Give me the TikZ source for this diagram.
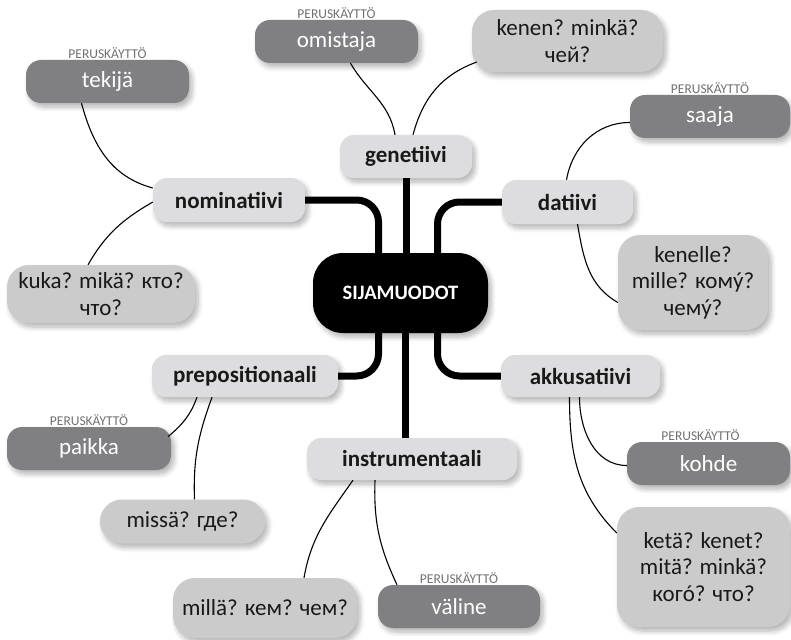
\documentclass[tikz,border=0pt]{standalone}
\usepackage{fontspec}
\setmainfont{Carlito}
\usetikzlibrary{shadows.blur}
\definecolor{catfill}{RGB}{221,221,223}
\definecolor{qfill}{RGB}{203,203,204}
\definecolor{darkfill}{RGB}{128,128,130}
\definecolor{tagcol}{RGB}{112,112,114}
\definecolor{txt}{RGB}{25,25,25}
\begin{document}
\begin{tikzpicture}[x=1pt,y=-1pt,
  base/.style={inner sep=0pt, align=center,
    blur shadow={shadow xshift=3pt, shadow yshift=-4pt, shadow opacity=30, shadow blur steps=7, shadow blur radius=5pt}},
  catbox/.style={base, rounded corners=14pt, fill=catfill, text=txt, font=\fontsize{23}{26}\selectfont\bfseries},
  qbox/.style={base, rounded corners=22pt, fill=qfill, text=txt, font=\fontsize{23}{26.5}\selectfont},
  leafbox/.style={base, rounded corners=15pt, fill=darkfill, text=white, font=\fontsize{23}{26}\selectfont},
  centbox/.style={base, rounded corners=30pt, fill=black, text=white, font=\fontsize{20.5}{24}\selectfont\bfseries},
  tag/.style={anchor=south, inner sep=1pt, text=tagcol, font=\fontsize{13.5}{14}\selectfont},
  trunk/.style={line width=7pt, rounded corners=22pt},
  link/.style={line width=1.1pt},
]
\useasboundingbox (0,0) rectangle (791,639);

% centre
\node[centbox, minimum width=175pt, minimum height=80pt] (cen) at (400.5,293) {SIJAMUODOT};

% categories
\node[catbox, minimum width=132pt, minimum height=43pt] (gen) at (406,156.5) {genetiivi};
\node[catbox, minimum width=152pt, minimum height=44pt] (nom) at (229,200) {nominatiivi};
\node[catbox, minimum width=131pt, minimum height=44pt] (dat) at (567.5,202) {datiivi};
\node[catbox, minimum width=186pt, minimum height=42pt] (pre) at (245,376) {prepositionaali};
\node[catbox, minimum width=159pt, minimum height=42pt] (akk) at (580.5,376) {akkusatiivi};
\node[catbox, minimum width=210pt, minimum height=42pt] (ins) at (412,459) {instrumentaali};

% leaves
\node[leafbox, minimum width=163pt, minimum height=43pt] (omi) at (336.5,41.5) {omistaja};
\node[qbox, minimum width=191pt, minimum height=62pt] (ken) at (567.5,41) {kenen? minkä?\\чей?};
\node[leafbox, minimum width=163pt, minimum height=43pt] (tek) at (107.5,81.5) {tekijä};
\node[leafbox, minimum width=160pt, minimum height=43pt] (saa) at (710,116.5) {saaja};
\node[qbox, minimum width=150pt, minimum height=95pt] (kenl) at (693,282.5) {kenelle?\\mille? комý?\\чемý?};
\node[qbox, minimum width=188pt, minimum height=58pt] (kuka) at (101,294) {kuka? mikä? кто?\\что?};
\node[leafbox, minimum width=164pt, minimum height=43pt] (pai) at (89,448.5) {paikka};
\node[qbox, minimum width=165pt, minimum height=44pt] (mis) at (182.5,521.5) {missä? где?};
\node[qbox, minimum width=184pt, minimum height=60pt] (mil) at (265,608) {millä? кем? чем?};
\node[leafbox, minimum width=162pt, minimum height=43pt] (val) at (459,606.5) {väline};
\node[leafbox, minimum width=163pt, minimum height=43pt] (koh) at (708.5,463.5) {kohde};
\node[qbox, minimum width=173pt, minimum height=120pt] (ket) at (703.5,567) {ketä? kenet?\\mitä? minkä?\\когó? что?};

% tags
\node[tag] (omiT) at (omi.north) {PERUSKÄYTTÖ};
\node[tag] (tekT) at (tek.north) {PERUSKÄYTTÖ};
\node[tag] (saaT) at (saa.north) {PERUSKÄYTTÖ};
\node[tag] (paiT) at (pai.north) {PERUSKÄYTTÖ};
\node[tag] (valT) at (val.north) {PERUSKÄYTTÖ};
\node[tag] (kohT) at ([xshift=-8pt]koh.north) {PERUSKÄYTTÖ};

% trunks
\draw[trunk] (gen.south) -- (gen.south |- cen.north);
\draw[trunk] ([xshift=5pt]cen.south) -- ([xshift=5pt]cen.south |- ins.north);
\draw[trunk] (nom.east) -| ([xshift=-22pt]cen.north);
\draw[trunk] (dat.west) -| ([xshift=37pt]cen.north);
\draw[trunk] (pre.east) -| ([xshift=-22pt]cen.south);
\draw[trunk] (akk.west) -| ([xshift=37pt]cen.south);

% links
\draw[link] ([xshift=14pt]omi.south) to[out=-60,in=100] ([xshift=-11pt]gen.north);
\draw[link] ([shift={(5pt,-21pt)}]ken.west) to[out=200,in=75] ([xshift=7pt]gen.north);
\draw[link] ([xshift=-26pt]tek.south) to[out=-75,in=165] ([yshift=12pt]nom.west);
\draw[link] ([yshift=-2pt]nom.west) to[out=210,in=60] ([xshift=-13pt]kuka.north);
\draw[link] ([xshift=-1pt]dat.north) to[out=80,in=180] ([yshift=-6pt]saa.west);
\draw[link] ([xshift=10pt]dat.south) to[out=-80,in=150] ([yshift=-20pt]kenl.west);
\draw[link] ([xshift=-48pt]pre.south) to[out=-110,in=40] ([shift={(-3pt,12pt)}]pai.east);
\draw[link] ([xshift=-33pt]pre.south) to[out=-110,in=92] ([xshift=12pt]mis.north);
\draw[link] ([xshift=-59pt]ins.south) to[out=-125,in=80] ([xshift=39pt]mil.north);
\draw[link] ([xshift=-37pt]ins.south) to[out=-92,in=115] ([xshift=-62pt]val.north);
\draw[link] ([xshift=-1pt]akk.south) to[out=-90,in=180] ([yshift=-2pt]koh.west);
\draw[link] ([xshift=-11pt]akk.south) to[out=-90,in=135] ([yshift=34pt]ket.west);
\end{tikzpicture}
\end{document}
